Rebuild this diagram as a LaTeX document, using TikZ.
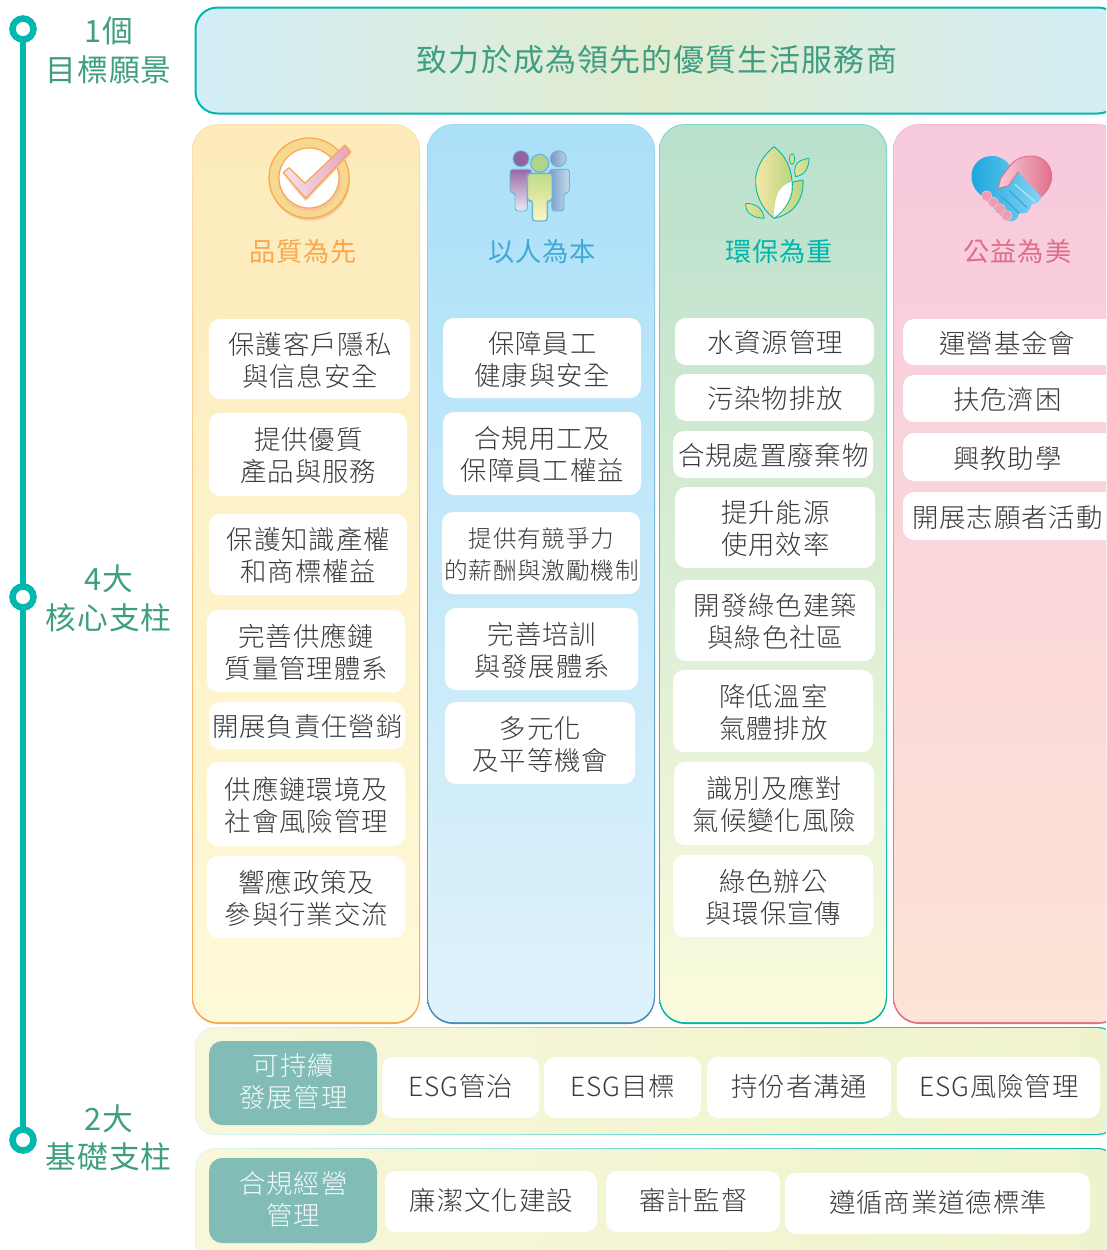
\documentclass[tikz,border=0pt]{standalone}
\usepackage{fontspec}
\setmainfont{Noto Sans CJK TC}
\newfontfamily\lightcjk{Noto Sans CJK TC Light}[LetterSpace=3.5]
\newfontfamily\regcjk{Noto Sans CJK TC}[LetterSpace=3.5]
\newcommand{\hc}[1]{\definecolor{#1}{HTML}{#1}}
\hc{D3EEF7}\hc{E1ECCE}\hc{FCE0B0}\hc{F9A74E}\hc{FDEBBA}\hc{FEF9D8}\hc{A5D8F0}\hc{4A8DB5}\hc{ABE0F9}\hc{DFF2FB}
\hc{80D8CC}\hc{00B5AA}\hc{B9E0CC}\hc{FBFBDC}\hc{F5BFD0}\hc{DF6E8A}\hc{F7C9DD}\hc{FDE4D6}\hc{3FA9D5}\hc{F6C79A}
\hc{F7D88F}\hc{F6E2E9}\hc{E4A3C0}\hc{9A6AA5}\hc{EDE8F4}\hc{6BB5D8}\hc{93639F}\hc{7C9CCB}\hc{C5DDE8}\hc{7F97C8}
\hc{B9CFE2}\hc{BFDB8A}\hc{FFF7BE}\hc{AFD48C}\hc{F7E6A8}\hc{B9D67E}\hc{E8E49A}\hc{C5DB88}\hc{D8DE92}\hc{1AA7DC}
\hc{85D4F5}\hc{F9CBD8}\hc{E0708A}\hc{BFE9F8}\hc{3B9FCB}\hc{EE9DB3}\hc{F8F7DA}\hc{EFF3CD}
\definecolor{teal}{HTML}{00B8AE}
\definecolor{headgreen}{HTML}{3F9E82}
\definecolor{bodytext}{HTML}{3A3A3A}
\definecolor{labelgreen}{HTML}{81BDB6}
\tikzset{
  x=1pt,y=-1pt,
  whitebox/.style={fill=white,rounded corners=11pt,inner sep=0pt,outer sep=0pt,align=center,text=bodytext,
    font=\lightcjk\fontsize{26.4}{32}\selectfont},
  greenbox/.style={whitebox,fill=labelgreen,rounded corners=13pt,text=white!92!labelgreen},
  sidelabel/.style={inner sep=0pt,align=center,text=headgreen,font=\regcjk\fontsize{30.7}{38.3}\selectfont},
  coltitle/.style={inner sep=0pt,font=\regcjk\fontsize{26.2}{30}\selectfont},
  ring/.style={circle,draw=teal,line width=6.5pt,fill=white,minimum size=21pt,inner sep=0pt,outer sep=0pt},
  spine/.style={draw=teal,line width=6.3pt},
  iconline/.style={line width=0.9pt,line join=round},
}
\newcommand{\textdy}{-1.2pt}
% box node, with its text node set a little off the box centre
\newcommand{\tbox}[7][whitebox]{%
  \pgfmathsetmacro{\mybw}{#5-#3}\pgfmathsetmacro{\mybh}{#6-#4}%
  \node[#1,minimum width=\mybw pt,minimum height=\mybh pt] (#2) at ({(#3+#5)/2},{(#4+#6)/2}) {};%
  \node[#1,fill=none] (#2t) at ([xshift=0.5pt,yshift=\textdy]#2.center) {#7};%
}
\newcommand{\colpanel}[6]{% x1 x2 topborder botborder topfill botfill
  \shade[top color=#3,bottom color=#4,rounded corners=26pt] (#1,124) rectangle (#2,1024);
  \shade[top color=#5,bottom color=#6,rounded corners=25pt] ({#1+1.2},125) rectangle ({#2-1.2},1022.2);
}
\newcommand{\rowpanel}[2]{% y1 y2
  \shade[left color=teal!12!white,right color=teal,rounded corners=20pt] (195,#1) rectangle (1118,#2);
  \shade[left color=F8F7DA,right color=EFF3CD,rounded corners=19pt] (196,{#1+1.2}) rectangle (1116.8,{#2-1.2});
}
\begin{document}
\begin{tikzpicture}
\useasboundingbox (0,0) rectangle (1106,1250);
\clip (0,0) rectangle (1106,1250);
% spine
\node[ring] (r1) at (23,29) {};
\node[ring] (r2) at (23,597) {};
\node[ring] (r3) at (23,1140) {};
\draw[spine] (r1) -- (r2) -- (r3);
\node[sidelabel] (l1) at (108.5,50.5) {1個\\目標願景};
\node[sidelabel] (l2) at (108.5,598.5) {4大\\核心支柱};
\node[sidelabel] (l3) at (108.5,1137.5) {2大\\基礎支柱};
% banner
\shade[left color=D3EEF7,right color=D3EEF7,middle color=E1ECCE,rounded corners=22pt] (195,7) rectangle (1120,114);
\draw[teal,line width=2pt,rounded corners=22pt] (195.5,7.5) rectangle (1120,113.5);
\node[inner sep=0pt,text=headgreen,font=\regcjk\fontsize{31}{36}\selectfont] (vision) at (657,59.5) {致力於成為領先的優質生活服務商};
% columns
\colpanel{192}{420}{FCE0B0}{F9A74E}{FDEBBA}{FEF9D8}
\colpanel{427}{655}{A5D8F0}{4A8DB5}{ABE0F9}{DFF2FB}
\colpanel{659}{887}{80D8CC}{00B5AA}{B9E0CC}{FBFBDC}
\colpanel{893}{1124}{F5BFD0}{DF6E8A}{F7C9DD}{FDE4D6}
\node[coltitle,text=F9A74E] (t1) at (303,252) {品質為先};
\node[coltitle,text=3FA9D5] (t2) at (542,252) {以人為本};
\node[coltitle,text=00B5AA] (t3) at (779,252) {環保為重};
\node[coltitle,text=DF6E8A] (t4) at (1017.5,252) {公益為美};
% column 1
\tbox{a1}{209}{319}{410}{399}{保護客戶隱私\\與信息安全}
\tbox{a2}{209}{413}{407}{496}{提供優質\\產品與服務}
\tbox{a3}{209}{514}{407}{595}{保護知識產權\\和商標權益}
\tbox{a4}{207}{610}{405}{692}{完善供應鏈\\質量管理體系}
\tbox{a5}{209}{702}{405}{749}{開展負責任營銷}
\tbox{a6}{207}{762}{405}{846}{供應鏈環境及\\社會風險管理}
\tbox{a7}{207}{856}{405}{938}{響應政策及\\參與行業交流}
% column 2
\tbox{b1}{443}{318}{641}{398}{保障員工\\健康與安全}
\tbox{b2}{443}{412}{641}{495}{合規用工及\\保障員工權益}
\tbox[whitebox,font=\lightcjk\fontsize{23.6}{32}\selectfont]{b3}{442}{512}{640}{594}{提供有競爭力\\的薪酬與激勵機制}
\tbox{b4}{445}{608}{638}{690}{完善培訓\\與發展體系}
\tbox{b5}{445}{702}{635}{784}{多元化\\及平等機會}
% column 3
\tbox{c1}{675}{318}{874}{365}{水資源管理}
\tbox{c2}{675}{374}{874}{421}{污染物排放}
\tbox{c3}{673}{431}{873}{478}{合規處置廢棄物}
\tbox{c4}{675}{487}{875}{568}{提升能源\\使用效率}
\tbox{c5}{675}{580}{875}{661}{開發綠色建築\\與綠色社區}
\tbox{c6}{673}{670}{873}{752}{降低溫室\\氣體排放}
\tbox{c7}{674}{762}{874}{845}{識別及應對\\氣候變化風險}
\tbox{c8}{673}{855}{873}{937}{綠色辦公\\與環保宣傳}
% column 4
\tbox{d1}{903}{319}{1125}{365}{\hspace*{-14pt}運營基金會}
\tbox{d2}{903}{375}{1125}{422}{\hspace*{-14pt}扶危濟困}
\tbox{d3}{903}{433}{1125}{481}{\hspace*{-14pt}興教助學}
\tbox{d4}{903}{492}{1125}{540}{\hspace*{-14pt}開展志願者活動}
% rows
\rowpanel{1027}{1135}
\rowpanel{1148}{1262}
\renewcommand{\textdy}{1.5pt}
\tbox[greenbox]{g1}{209}{1041}{377}{1125}{可持續\\發展管理}
\tbox[greenbox]{g2}{209}{1158}{377}{1243}{合規經營\\管理}
\tbox{e1}{382}{1057}{539}{1118}{ESG管治}
\tbox{e2}{544}{1057}{701}{1118}{ESG目標}
\tbox{e3}{707}{1057}{891}{1118}{持份者溝通}
\tbox{e4}{897}{1057}{1100}{1118}{ESG風險管理}
\tbox{f1}{385}{1171}{597}{1232}{廉潔文化建設}
\tbox{f2}{606}{1171}{780}{1232}{審計監督}
\tbox{f3}{785}{1173}{1090}{1234}{遵循商業道德標準}
% --- icon: check
\fill[F6C79A] (310,180.5) circle (40);
\filldraw[fill=F7D88F,draw=F9A74E,line width=1.2pt] (309,178) circle (40);
\fill[F6C79A] (310,180) circle (31.5);
\filldraw[fill=white,draw=F9A74E,line width=1.2pt] (309,178) circle (30);
\fill[F6C79A] (283.3,175) -- (305.7,201) -- (350.7,154) -- (350.7,151.7) -- (305.7,198.3) -- cycle;
\shade[left color=F6E2E9,right color=E4A3C0] (283.3,172.7) -- (289,167.7) -- (305,183.3) -- (345,145) -- (350.7,151.7) -- (305.7,198.3) -- cycle;
\draw[F9A74E,iconline,line width=1.2pt] (283.3,172.7) -- (289,167.7) -- (305,183.3) -- (345,145) -- (350.7,151.7) -- (305.7,198.3) -- cycle;
% --- icon: people
\shade[top color=9A6AA5,bottom color=EDE8F4,rounded corners=3pt] (510,169.3) -- (531.7,169.3) -- (531.7,192.7) -- (527.3,192.7) -- (527.3,211) -- (515,211) -- (515,192.7) -- (510,192.7) -- cycle;
\draw[6BB5D8,iconline,rounded corners=3pt] (510,169.3) -- (531.7,169.3) -- (531.7,192.7) -- (527.3,192.7) -- (527.3,211) -- (515,211) -- (515,192.7) -- (510,192.7) -- cycle;
\filldraw[fill=93639F,draw=6BB5D8,iconline] (521,158.7) circle (8);
\shade[left color=7C9CCB,right color=C5DDE8,rounded corners=3pt] (549.3,169.3) -- (569.3,169.3) -- (569.3,192.7) -- (564,192.7) -- (564,211) -- (551.7,211) -- (551.7,192.7) -- (549.3,192.7) -- cycle;
\draw[6BB5D8,iconline,rounded corners=3pt] (549.3,169.3) -- (569.3,169.3) -- (569.3,192.7) -- (564,192.7) -- (564,211) -- (551.7,211) -- (551.7,192.7) -- (549.3,192.7) -- cycle;
\shade[left color=7F97C8,right color=B9CFE2] (558.3,158.7) circle (8);
\draw[6BB5D8,iconline] (558.3,158.7) circle (8);
\shade[top color=BFDB8A,bottom color=FFF7BE,rounded corners=3pt] (527.3,173.3) -- (552.3,173.3) -- (552.3,200.7) -- (547.3,200.7) -- (547.3,221) -- (532.3,221) -- (532.3,200.7) -- (527.3,200.7) -- cycle;
\draw[6BB5D8,line width=1.4pt,rounded corners=3pt] (527.3,173.3) -- (552.3,173.3) -- (552.3,200.7) -- (547.3,200.7) -- (547.3,221) -- (532.3,221) -- (532.3,200.7) -- (527.3,200.7) -- cycle;
\filldraw[fill=AFD48C,draw=6BB5D8,line width=1.2pt] (539.7,163.3) circle (9);
% --- icon: leaf
\shade[left color=F7E6A8,right color=B9D67E] (774,146.7) .. controls (760,158) and (755,172) .. (755.7,183) .. controls (756,198) and (765,212) .. (774,218.3) .. controls (774,200) and (778,186) .. (792,181) .. controls (791,167) and (785,155) .. (774,146.7) -- cycle;
\draw[teal,line width=0.9pt] (792,181) .. controls (791,167) and (785,155) .. (774,146.7) .. controls (760,158) and (755,172) .. (755.7,183) .. controls (756,198) and (765,212) .. (774,218.3);
\fill[white] (774,218.3) .. controls (774,198) and (778,186) .. (791,182) .. controls (793,195) and (785,210) .. (774,218.3) -- cycle;
\shade[left color=E8E49A,right color=B9D67E] (792.5,182) -- (803,180) .. controls (804,198) and (795,214) .. (774,218.3) .. controls (786,210) and (794,197) .. (792.5,182) -- cycle;
\draw[teal,line width=0.9pt] (792.5,182) -- (803,180) .. controls (804,198) and (795,214) .. (774,218.3);
\draw[teal,line width=0.7pt] (774,218.3) .. controls (786,210) and (794,197) .. (792.5,182);
\shade[left color=E8E49A,right color=C5DB88] (809,158.3) .. controls (795,160) and (793,168) .. (795.7,176.7) .. controls (805,175) and (809,168) .. (809,158.3) -- cycle;
\draw[teal,line width=0.8pt] (809,158.3) .. controls (795,160) and (793,168) .. (795.7,176.7) .. controls (805,175) and (809,168) .. (809,158.3) -- cycle;
\filldraw[fill=D8DE92,draw=teal,line width=0.7pt] (792,159) ellipse (2.7 and 5.3);
\shade[left color=E8E49A,right color=C5DB88] (745.7,203.5) .. controls (755,203) and (763,208) .. (764,218.3) .. controls (752,218) and (745,212) .. (745.7,203.5) -- cycle;
\draw[teal,line width=0.8pt] (745.7,203.5) .. controls (755,203) and (763,208) .. (764,218.3) .. controls (752,218) and (745,212) .. (745.7,203.5) -- cycle;
% --- icon: handshake heart
\shade[left color=1AA7DC,right color=85D4F5] (983,197) .. controls (975,191) and (971.5,184) .. (971.5,176) .. controls (971.5,165) and (980,156) .. (992,156) .. controls (1000,156) and (1006,160) .. (1010,165.7) -- (1018.3,171.7) -- (1041.7,196.7) .. controls (1041,201) and (1036,204) .. (1031.7,204.3) .. controls (1030,209) and (1028,213) .. (1025,213.3) -- (1019,213.3) .. controls (1018,218) and (1016,221) .. (1012,221) -- (1006,221) -- cycle;
\shade[left color=F9CBD8,right color=E0708A] (1010,165.7) .. controls (1015,159) and (1023,156) .. (1031.7,156) .. controls (1043,156) and (1051.7,165) .. (1051.7,176.7) .. controls (1051.7,184) and (1047,192) .. (1041,196.7) -- (1018.3,171.7) -- (1008.3,185.7) -- (998.3,188.3) -- (1000.7,178.3) -- cycle;
\draw[E0708A,line width=0.9pt,line join=round] (1010,165.7) .. controls (1015,159) and (1023,156) .. (1031.7,156) .. controls (1043,156) and (1051.7,165) .. (1051.7,176.7) .. controls (1051.7,184) and (1047,192) .. (1041,196.7) (1018.3,171.7) -- (1008.3,185.7) -- (998.3,188.3) -- (1000.7,178.3) -- (1010,165.7);
\draw[BFE9F8,line width=1pt] (1015,184.3) -- (1035,201.7);
\draw[3B9FCB,line width=1pt] (1009.3,190.7) -- (1026.7,207.3);
\draw[3B9FCB,line width=1pt] (1001.7,196.7) -- (1019.3,213.3);
\foreach \fx/\fy in {986.7/196,993.3/202.3,1000/209,1006.7/215.7}{
  \filldraw[fill=EE9DB3,draw=F7C9DD,line width=0.5pt] (\fx,\fy) circle (5.3);
}
\end{tikzpicture}
\end{document}
